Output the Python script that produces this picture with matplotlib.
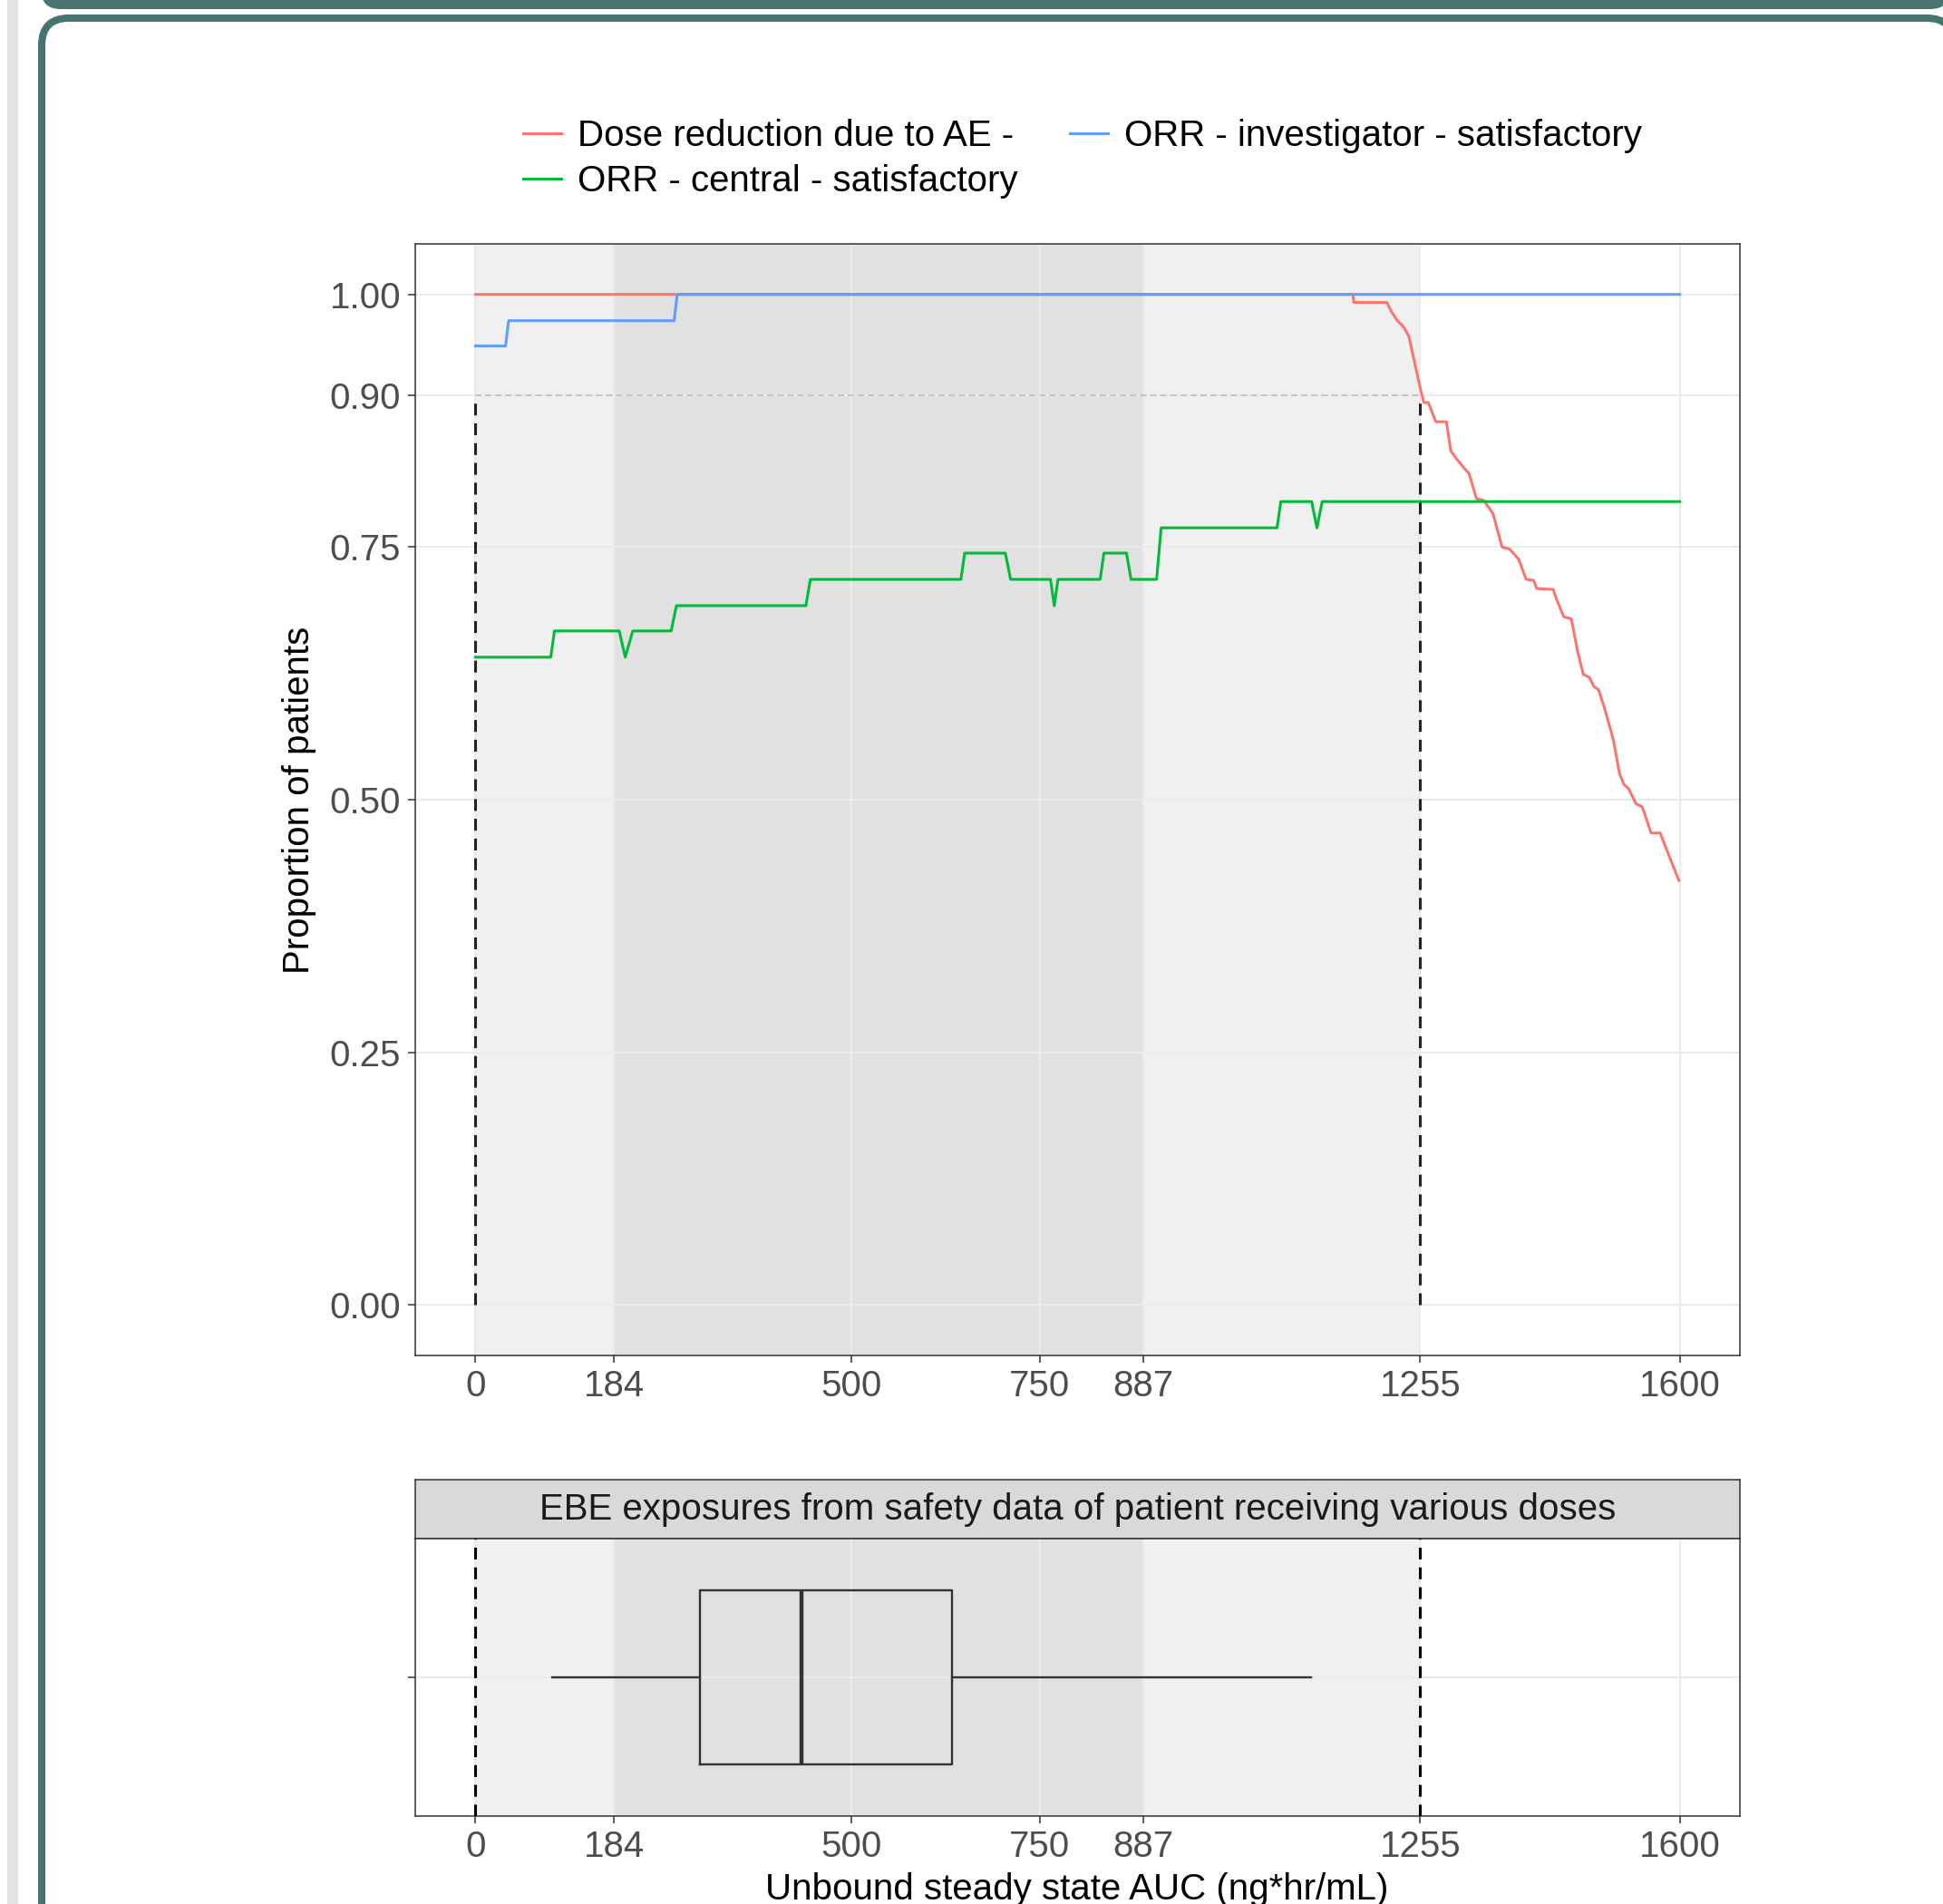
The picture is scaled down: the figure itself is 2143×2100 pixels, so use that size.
import matplotlib.pyplot as plt
from matplotlib.patches import FancyBboxPatch, Rectangle
from matplotlib.lines import Line2D

plt.rcParams['font.family'] = ['Liberation Sans', 'DejaVu Sans']
plt.rcParams['lines.scale_dashes'] = False

W, H = 2143, 2100

# ---- data ----
dose_x = [0, 1166, 1167, 1211, 1217, 1225, 1233, 1240, 1248, 1256, 1260, 1266, 1276, 1290,
          1296, 1306, 1316, 1320, 1330, 1340, 1352, 1364, 1374, 1386, 1396, 1406, 1410, 1432,
          1436, 1446, 1456, 1464, 1472, 1480, 1486, 1492, 1500, 1512, 1520, 1526, 1532, 1542,
          1550, 1554, 1562, 1574, 1584, 1599]
dose_y = [1.0, 1.0, 0.992, 0.992, 0.983, 0.974, 0.968, 0.959, 0.932, 0.905, 0.893, 0.893,
          0.874, 0.874, 0.845, 0.835, 0.826, 0.823, 0.798, 0.796, 0.783, 0.750, 0.748, 0.738,
          0.718, 0.717, 0.709, 0.708, 0.699, 0.681, 0.679, 0.648, 0.624, 0.621, 0.612, 0.609,
          0.591, 0.559, 0.526, 0.515, 0.511, 0.496, 0.493, 0.485, 0.467, 0.467, 0.448, 0.420]

central_x = [0, 100, 105, 191, 199, 209, 260, 267, 439, 445, 645, 650, 704, 711, 764, 769,
             774, 830, 835, 865, 871, 905, 911, 1065, 1070, 1111, 1118, 1125, 1600]
central_y = [0.641, 0.641, 0.667, 0.667, 0.641, 0.667, 0.667, 0.692, 0.692, 0.718, 0.718,
             0.744, 0.744, 0.718, 0.718, 0.692, 0.718, 0.718, 0.744, 0.744, 0.718, 0.718,
             0.769, 0.769, 0.795, 0.795, 0.769, 0.795, 0.795]

inv_x = [0, 40, 44, 264, 268, 1600]
inv_y = [0.949, 0.949, 0.974, 0.974, 1.0, 1.0]

# EBE exposure boxplot summary
box_stats = dict(whislo=102, q1=298, med=433, q3=633, whishi=1110, fliers=[])

x_breaks = [0, 184, 500, 750, 887, 1255, 1600]
y_breaks = [0, 0.25, 0.5, 0.75, 0.9, 1.0]
y_labels = ["0.00", "0.25", "0.50", "0.75", "0.90", "1.00"]
light_band = (0, 1255)
dark_band = (184, 887)
target = 0.9

labels = ["Dose reduction due to AE -", "ORR - central - satisfactory",
          "ORR - investigator - satisfactory"]
colors = ["#F8766D", "#00BA38", "#619CFF"]

FS = 29
TEAL = "#467470"
DASH = (0, (9.4, 6.3))


def fig_rect(left, top, right, bottom):
    return [left / W, 1 - bottom / H, (right - left) / W, (bottom - top) / H]


fig = plt.figure(figsize=(W / 100, H / 100), dpi=100)

# ---- slide frame decoration ----
bg = fig.add_axes([0, 0, 1, 1], zorder=-10)
bg.set_xlim(0, W)
bg.set_ylim(H, 0)
bg.axis("off")
bg.add_patch(Rectangle((8, 0), 12, H, color="#E1E3E6", lw=0))
bg.add_patch(FancyBboxPatch((45, -40), W - 37, 50, boxstyle="round,pad=0,rounding_size=22",
                            fc=TEAL, ec="none"))
bg.add_patch(FancyBboxPatch((46, 20), W - 34, H + 100, boxstyle="round,pad=0,rounding_size=30",
                            fc="white", ec=TEAL, lw=5.8))


def style_axis(ax):
    ax.set_facecolor("white")
    for s in ax.spines.values():
        s.set_color("#333333")
        s.set_linewidth(1.1)
    ax.tick_params(length=6, width=1.1, color="#333333", labelsize=FS,
                   labelcolor="#4D4D4D")
    ax.tick_params(axis="x", pad=4.5)
    ax.tick_params(axis="y", pad=5.5)
    ax.set_xlim(-80, 1680)
    ax.set_xticks(x_breaks)
    ax.set_xticklabels([str(b) for b in x_breaks])
    for xb in x_breaks:
        ax.axvline(xb, color="#EBEBEB", lw=1.5, zorder=0.6)
    ax.axvspan(*light_band, color="black", alpha=0.06, lw=0, zorder=0.5)
    ax.axvspan(*dark_band, color="black", alpha=0.06, lw=0, zorder=0.5)


# ---- top panel ----
ax = fig.add_axes(fig_rect(458, 269, 1919, 1495))
style_axis(ax)
ax.set_ylim(-0.05, 1.05)
ax.set_yticks(y_breaks)
ax.set_yticklabels(y_labels)
for yb in y_breaks:
    ax.axhline(yb, color="#EBEBEB", lw=1.5, zorder=0.6)

ax.hlines(target, light_band[0], light_band[1], colors="#C4C4C4", linestyles=(0, (5, 3)),
          lw=1.4, zorder=1)
ax.vlines(list(light_band), 0, target, colors="#222222", linestyles=DASH, lw=2.2, zorder=3)

ax.plot(dose_x, dose_y, color=colors[0], lw=2.2, zorder=2)
ax.plot(central_x, central_y, color=colors[1], lw=2.2, zorder=2)
ax.plot(inv_x, inv_y, color=colors[2], lw=2.2, zorder=2)

# ---- strip ----
sax = fig.add_axes(fig_rect(458, 1632, 1919, 1697))
sax.set_facecolor("#D9D9D9")
sax.set_xticks([])
sax.set_yticks([])
for s in sax.spines.values():
    s.set_color("#333333")
    s.set_linewidth(1.1)
sax.text(0.5, 0.5, "EBE exposures from safety data of patient receiving various doses",
         transform=sax.transAxes, ha="center", va="center", fontsize=FS, color="#1A1A1A")

# ---- bottom panel ----
bx = fig.add_axes(fig_rect(458, 1697, 1919, 2003))
style_axis(bx)
bx.set_ylim(0.4, 1.6)
bx.set_yticks([1])
bx.set_yticklabels([""])
bx.axhline(1, color="#EBEBEB", lw=1.5, zorder=0.6)
bx.vlines(list(light_band), 0.4, 1.6, colors="black", linestyles=DASH, lw=2.2, zorder=3)
bx.bxp([box_stats], positions=[1], widths=0.75, orientation="horizontal",
       showfliers=False, showcaps=False, manage_ticks=False,
       boxprops=dict(color="#333333", lw=1.7),
       whiskerprops=dict(color="#333333", lw=1.7),
       medianprops=dict(color="#333333", lw=3.2), zorder=2)

# ---- titles ----
fig.text(330 / W, 1 - 882 / H, "Proportion of patients", rotation=90,
         ha="center", va="center", fontsize=FS, color="black")
fig.text(1188 / W, 1 - 2095 / H, "Unbound steady state AUC (ng*hr/mL)",
         ha="center", va="baseline", fontsize=FS, color="black")

# ---- legend ----
handles = [Line2D([], [], color=c, lw=2.2) for c in colors]
fig.legend(handles, labels, loc="upper left", bbox_to_anchor=(577 / W, 1 - 131 / H),
           ncol=2, frameon=False, fontsize=FS, handlelength=1.04, handletextpad=0.45,
           columnspacing=1.42, labelspacing=0.3, borderpad=0, borderaxespad=0)

fig.savefig("out.png", dpi=100)
